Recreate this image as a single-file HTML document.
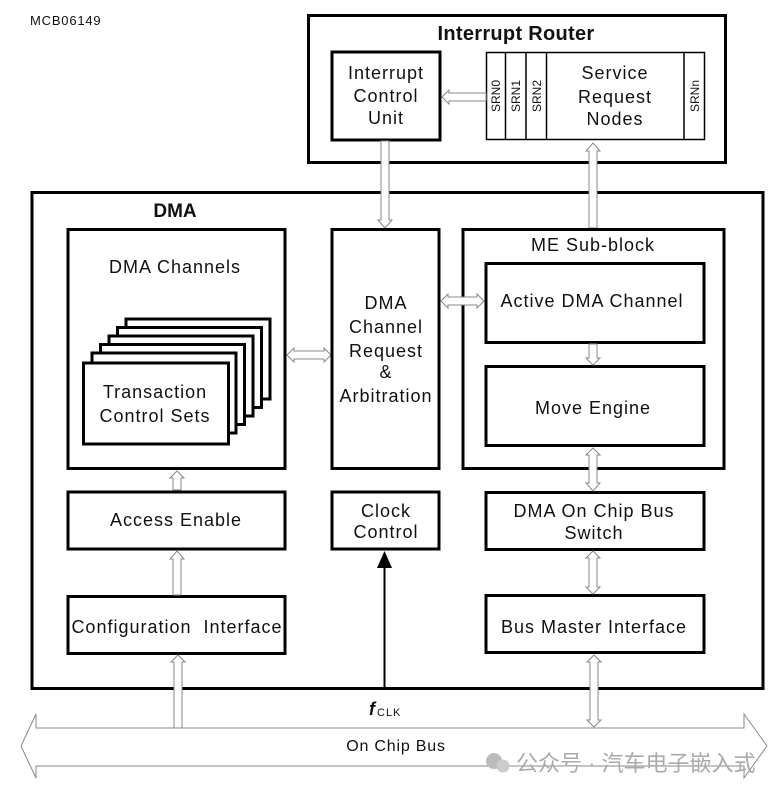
<!DOCTYPE html>
<html><head><meta charset="utf-8"><style>
html,body{margin:0;padding:0;background:#fff;width:780px;height:792px;overflow:hidden}
svg{display:block}
text{font-family:"Liberation Sans","Noto Sans CJK SC",sans-serif;fill:#111}
.l{font-size:18px;letter-spacing:1px}
</style></head><body>
<svg width="780" height="792" viewBox="0 0 780 792" xmlns="http://www.w3.org/2000/svg">
<text x="30" y="25" font-size="13" fill="#333" letter-spacing="0.8">MCB06149</text>

<rect x="308.5" y="15.5" width="417" height="147" fill="#fff" stroke="#000" stroke-width="3"/>
<text x="516" y="40" font-size="20" font-weight="bold" text-anchor="middle" letter-spacing="0.3">Interrupt Router</text>
<rect x="332" y="52" width="108" height="88" fill="#fff" stroke="#000" stroke-width="3"/>
<text x="386" y="79" class="l" text-anchor="middle">Interrupt</text>
<text x="386" y="102" class="l" text-anchor="middle">Control</text>
<text x="386" y="124" class="l" text-anchor="middle">Unit</text>
<rect x="486.5" y="52.5" width="218" height="87" fill="#fff" stroke="#000" stroke-width="1.5"/>
<line x1="505.5" y1="52" x2="505.5" y2="140" stroke="#000" stroke-width="1.5"/>
<line x1="526" y1="52" x2="526" y2="140" stroke="#000" stroke-width="1.5"/>
<line x1="546.5" y1="52" x2="546.5" y2="140" stroke="#000" stroke-width="1.5"/>
<line x1="684" y1="52" x2="684" y2="140" stroke="#000" stroke-width="1.5"/>
<text transform="translate(500,96) rotate(-90)" font-size="12" text-anchor="middle">SRN0</text>
<text transform="translate(520,96) rotate(-90)" font-size="12" text-anchor="middle">SRN1</text>
<text transform="translate(541,96) rotate(-90)" font-size="12" text-anchor="middle">SRN2</text>
<text transform="translate(699,96) rotate(-90)" font-size="12" text-anchor="middle">SRNn</text>
<text x="615" y="79" class="l" text-anchor="middle">Service</text>
<text x="615" y="103" class="l" text-anchor="middle">Request</text>
<text x="615" y="125" class="l" text-anchor="middle">Nodes</text>
<polygon points="486,93 449,93 449,90 442,97 449,104 449,101 486,101" fill="#fff" stroke="#888" stroke-width="1"/>

<rect x="32" y="192.5" width="731" height="496" fill="none" stroke="#000" stroke-width="3"/>
<text x="175" y="217" font-size="19" font-weight="bold" text-anchor="middle">DMA</text>

<polygon points="381,141 381,220 378,220 385,228 392,220 389,220 389,141" fill="#fff" stroke="#888" stroke-width="1"/>
<polygon points="589,228 589,151 586,151 593,143 600,151 597,151 597,228" fill="#fff" stroke="#888" stroke-width="1"/>

<rect x="68" y="229.5" width="217" height="239" fill="#fff" stroke="#000" stroke-width="3"/>
<text x="175" y="273" class="l" text-anchor="middle">DMA Channels</text>
<g fill="#fff" stroke="#000" stroke-width="3">
<rect x="126" y="319" width="144" height="80"/>
<rect x="117.5" y="327.5" width="144" height="80"/>
<rect x="109" y="336" width="144" height="80"/>
<rect x="100.5" y="344.5" width="144" height="80"/>
<rect x="92" y="353" width="144" height="80"/>
<rect x="83.5" y="363" width="145" height="81"/>
</g>
<text x="155" y="398" class="l" text-anchor="middle">Transaction</text>
<text x="155" y="422" class="l" text-anchor="middle">Control Sets</text>

<polygon points="287,355 294,348 294,351 324,351 324,348 331,355 324,362 324,359 294,359 294,362" fill="#fff" stroke="#888" stroke-width="1"/>

<rect x="332" y="229.5" width="107" height="239" fill="#fff" stroke="#000" stroke-width="3"/>
<text x="386" y="309" class="l" text-anchor="middle">DMA</text>
<text x="386" y="333" class="l" text-anchor="middle">Channel</text>
<text x="386" y="357" class="l" text-anchor="middle">Request</text>
<text x="386" y="378" class="l" text-anchor="middle">&amp;</text>
<text x="386" y="402" class="l" text-anchor="middle">Arbitration</text>

<rect x="463" y="229.5" width="261" height="239" fill="#fff" stroke="#000" stroke-width="3"/>
<text x="593" y="251" class="l" text-anchor="middle">ME Sub-block</text>
<rect x="486" y="263.5" width="218" height="79" fill="#fff" stroke="#000" stroke-width="3"/>
<text x="592" y="307" class="l" text-anchor="middle">Active DMA Channel</text>
<rect x="486" y="366.5" width="218" height="79" fill="#fff" stroke="#000" stroke-width="3"/>
<text x="593" y="414" class="l" text-anchor="middle">Move Engine</text>
<polygon points="589,344 589,358 586,358 593,365 600,358 597,358 597,344" fill="#fff" stroke="#888" stroke-width="1"/>
<polygon points="441,301 448,294 448,297 477,297 477,294 484,301 477,308 477,305 448,305 448,308" fill="#fff" stroke="#888" stroke-width="1"/>

<rect x="68" y="492" width="217" height="57" fill="#fff" stroke="#000" stroke-width="3"/>
<text x="176" y="526" class="l" text-anchor="middle">Access Enable</text>
<polygon points="173,490 173,478 170,478 177,471 184,478 181,478 181,490" fill="#fff" stroke="#888" stroke-width="1"/>
<rect x="68" y="596.5" width="217" height="57" fill="#fff" stroke="#000" stroke-width="3"/>
<text x="177" y="633" class="l" text-anchor="middle" xml:space="preserve">Configuration  Interface</text>
<polygon points="173,595 173,559 170,559 177,551 184,559 181,559 181,595" fill="#fff" stroke="#888" stroke-width="1"/>

<rect x="332" y="492" width="107" height="57" fill="#fff" stroke="#000" stroke-width="3"/>
<text x="386" y="517" class="l" text-anchor="middle">Clock</text>
<text x="386" y="538" class="l" text-anchor="middle">Control</text>
<line x1="384.5" y1="565" x2="384.5" y2="690" stroke="#000" stroke-width="2"/>
<polygon points="384.5,551 377,568 392,568" fill="#000"/>

<rect x="486" y="492.5" width="218" height="57" fill="#fff" stroke="#000" stroke-width="3"/>
<text x="594" y="517" class="l" text-anchor="middle">DMA On Chip Bus</text>
<text x="594" y="539" class="l" text-anchor="middle">Switch</text>
<polygon points="593,448 600,455 597,455 597,483 600,483 593,491 586,483 589,483 589,455 586,455" fill="#fff" stroke="#888" stroke-width="1"/>
<rect x="486" y="595.5" width="218" height="57" fill="#fff" stroke="#000" stroke-width="3"/>
<text x="594" y="633" class="l" text-anchor="middle">Bus Master Interface</text>
<polygon points="593,551 600,558 597,558 597,587 600,587 593,594 586,587 589,587 589,558 586,558" fill="#fff" stroke="#888" stroke-width="1"/>

<polygon points="174,728 174,662 171,662 178,655 185,662 182,662 182,728" fill="#fff" stroke="#888" stroke-width="1"/>
<polygon points="594,655 601,662 598,662 598,720 601,720 594,727 587,720 590,720 590,662 587,662" fill="#fff" stroke="#888" stroke-width="1"/>

<text x="369" y="715" font-size="18" font-style="italic" font-weight="bold">f</text>
<text x="377" y="716" font-size="11" letter-spacing="1">CLK</text>

<polygon points="21,746 36,714 36,728 744,728 744,714 767,746 744,778 744,766 36,766 36,778" fill="#fff" stroke="#888" stroke-width="1"/>
<text x="396" y="751" font-size="16" text-anchor="middle" letter-spacing="0.8">On Chip Bus</text>
<circle cx="494" cy="761" r="8" fill="#bbb"/>
<circle cx="503" cy="766" r="6.5" fill="#ccc"/>
<text x="516" y="771" font-size="22" style="fill:#aaa">公众号 · 汽车电子嵌入式</text>
</svg>
</body></html>
